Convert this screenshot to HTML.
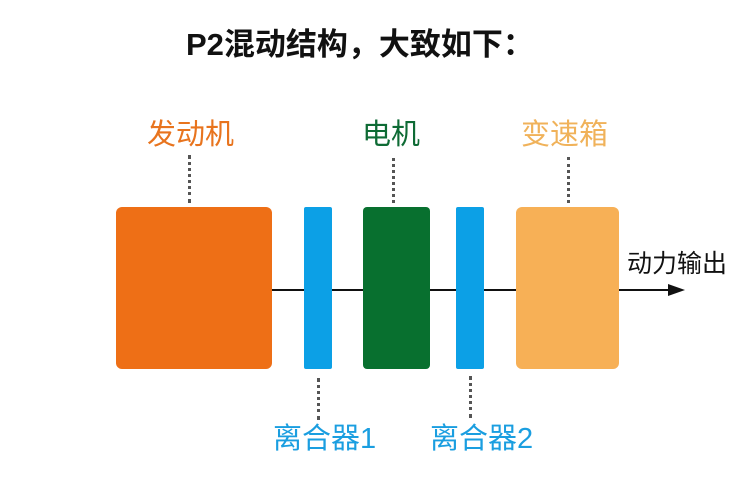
<!DOCTYPE html>
<html><head><meta charset="utf-8"><style>
body{margin:0;width:752px;height:501px;background:#fff;position:relative;overflow:hidden;font-family:"Liberation Sans","Noto Sans CJK SC",sans-serif}
.a{position:absolute}
.t{position:absolute;white-space:nowrap;line-height:1}
.d{position:absolute;width:0;border-left:3px dotted #555}
</style></head><body>
<div class="t" style="left:186px;top:29px;font-size:31px;font-weight:bold;color:#111">P2混动结构，大致如下：</div>
<div class="t" style="left:147px;top:121px;font-size:29px;color:#e8741e">发动机</div>
<div class="t" style="left:362px;top:121px;font-size:29px;color:#0e6b35">电机</div>
<div class="t" style="left:521px;top:121px;font-size:29px;color:#f0b25a">变速箱</div>
<div class="d" style="left:188px;top:155px;height:48px"></div>
<div class="d" style="left:392px;top:158px;height:45px"></div>
<div class="d" style="left:567px;top:157px;height:46px"></div>
<div class="d" style="left:317px;top:378px;height:42px"></div>
<div class="d" style="left:469px;top:376px;height:42px"></div>
<div class="a" style="left:270px;top:289px;width:405px;height:2px;background:#111"></div>
<svg class="a" style="left:668px;top:283px" width="18" height="14"><polygon points="0,1 17,7 0,13" fill="#111"/></svg>
<div class="a" style="left:116px;top:207px;width:156px;height:162px;background:#ee6f16;border-radius:6px"></div>
<div class="a" style="left:304px;top:207px;width:28px;height:162px;background:#0ca0e6;border-radius:2px"></div>
<div class="a" style="left:363px;top:207px;width:67px;height:162px;background:#08702f;border-radius:4px"></div>
<div class="a" style="left:456px;top:207px;width:28px;height:162px;background:#0ca0e6;border-radius:2px"></div>
<div class="a" style="left:516px;top:207px;width:103px;height:162px;background:#f7b056;border-radius:6px"></div>
<div class="t" style="left:627px;top:252px;font-size:25px;color:#111">动力输出</div>
<div class="t" style="left:273px;top:425px;font-size:29px;color:#1a9ee0">离合器1</div>
<div class="t" style="left:430px;top:425px;font-size:29px;color:#1a9ee0">离合器2</div>
</body></html>
